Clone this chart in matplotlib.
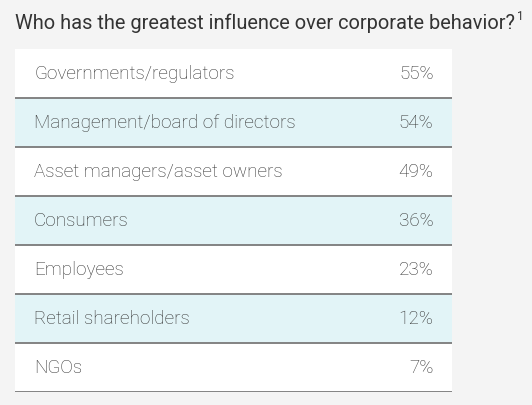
import matplotlib
matplotlib.use("Agg")
import matplotlib.pyplot as plt

categories = ["Governments/regulators", "Management/board of directors",
              "Asset managers/asset owners", "Consumers", "Employees",
              "Retail shareholders", "NGOs"]
values = [55, 54, 49, 36, 23, 12, 7]
title = "Who has the greatest influence over corporate behavior?"

W, H = 532, 406
fig = plt.figure(figsize=(W / 100, H / 100), dpi=100, facecolor="#f4f4f4")

# title
t = fig.text(15 / W, 1 - 29 / H, title, fontsize=14.4, family="Roboto",
             color="#333333", ha="left", va="baseline")
fig.canvas.draw()
bb = t.get_window_extent()
fig.text(bb.x1 / W + 1.5 / W, 1 - 19.5 / H, "1", fontsize=8.5, family="Roboto",
         color="#333333", ha="left", va="baseline")

left, right, top, bottom = 15, 452, 50, 393
ax = fig.add_axes([left / W, 1 - bottom / H, (right - left) / W, (bottom - top) / H])
n = len(categories)
ax.set_xlim(0, 1)
ax.set_ylim(n, 0)
ax.axis("off")

colors = ["#ffffff", "#e2f4f7"]
for i, (c, v) in enumerate(zip(categories, values)):
    ax.axhspan(i, i + 1, color=colors[i % 2], lw=0)
    ax.axhline(i + 1, color="#7a7a7a", lw=1.3)
    ax.text((34 - left) / (right - left), i + 0.595, c, fontsize=13.6,
            family="Roboto", fontweight="light", color="#333333",
            ha="left", va="baseline")
    ax.text((433.5 - left) / (right - left), i + 0.595, f"{v}%", fontsize=13.6,
            family="Roboto", fontweight="light", color="#333333",
            ha="right", va="baseline")

fig.savefig("out.png", dpi=100, facecolor=fig.get_facecolor())
